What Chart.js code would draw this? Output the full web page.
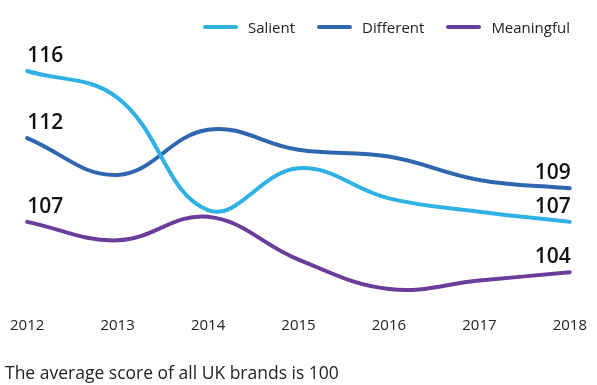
<!DOCTYPE html>
<html>
<head>
<meta charset="utf-8">
<script src="https://cdn.jsdelivr.net/npm/chart.js@4.4.1/dist/chart.umd.min.js"></script>
<style>
  html, body { margin: 0; padding: 0; background: #fff; }
  #wrap { position: relative; width: 597px; height: 385px; }
  #legend {
    position: absolute; right: 27px; top: 17px;
    display: flex; align-items: center;
    font-family: "Open Sans", sans-serif; font-size: 15px; color: #222;
    line-height: 20px;
  }
  #legend .item { display: flex; align-items: center; margin-left: 22px; }
  #legend .swatch { width: 35px; height: 4px; border-radius: 2px; margin-right: 10px; }
  #footnote {
    position: absolute; left: 5px; top: 360px;
    font-family: "Open Sans", sans-serif; font-size: 17.5px; color: #222;
    white-space: nowrap;
  }
</style>
</head>
<body>
<div id="wrap">
  <canvas id="myChart" width="597" height="385"></canvas>
  <div id="legend"></div>
  <div id="footnote">The average score of all UK brands is 100</div>
</div>
<script>
const years = ['2012', '2013', '2014', '2015', '2016', '2017', '2018'];
const salient = [116, 114.4, 107.7, 110.2, 108.4, 107.6, 107];
const different = [112, 109.8, 112.5, 111.3, 110.9, 109.5, 109];
const meaningful = [107, 105.9, 107.3, 104.75, 103.0, 103.5, 104];

const COLORS = {
    salient: '#30b1e4',
    different: '#2f66b0',
    meaningful: '#6a3d9a'
};

// draws the first and last value of each line above the line ends
const endLabels = {
    id: 'endLabels',
    afterDatasetsDraw(chart) {
        const ctx = chart.ctx;
        ctx.save();
        ctx.font = '600 21px "Open Sans", sans-serif';
        ctx.fillStyle = '#111';
        ctx.textBaseline = 'alphabetic';
        chart.data.datasets.forEach((ds, i) => {
            const pts = chart.getDatasetMeta(i).data;
            const first = pts[0];
            const last = pts[pts.length - 1];
            ctx.textAlign = 'left';
            ctx.fillText(Math.round(ds.data[0]), first.x, first.y - 9);
            ctx.textAlign = 'right';
            ctx.fillText(Math.round(ds.data[ds.data.length - 1]), last.x + 1, last.y - 9);
        });
        ctx.restore();
    }
};

function makeDataset(label, data, color) {
    return {
        label: label,
        data: data,
        borderColor: color,
        backgroundColor: color,
        borderWidth: 4,
        borderCapStyle: 'round',
        tension: 0.4,
        pointRadius: 0,
        fill: false
    };
}

function buildLegend(chart) {
    const legend = document.getElementById('legend');
    chart.data.datasets.forEach(ds => {
        const item = document.createElement('div');
        item.className = 'item';
        const swatch = document.createElement('span');
        swatch.className = 'swatch';
        swatch.style.background = ds.borderColor;
        const text = document.createElement('span');
        text.textContent = ds.label;
        item.appendChild(swatch);
        item.appendChild(text);
        legend.appendChild(item);
    });
}

const ctx = document.getElementById('myChart').getContext('2d');
const myChart = new Chart(ctx, {
    type: 'line',
    data: {
        labels: years,
        datasets: [
            makeDataset('Salient', salient, COLORS.salient),
            makeDataset('Different', different, COLORS.different),
            makeDataset('Meaningful', meaningful, COLORS.meaningful)
        ]
    },
    options: {
        responsive: false,
        animation: false,
        layout: {
            padding: { left: 23, right: 27, top: 40, bottom: 40 }
        },
        scales: {
            x: {
                offset: false,
                grid: { display: false },
                border: { display: false },
                ticks: {
                    color: '#222',
                    padding: 10,
                    maxRotation: 0,
                    font: { family: 'Open Sans', size: 15 }
                }
            },
            y: {
                display: false,
                min: 102.4,
                max: 117.85
            }
        },
        plugins: {
            tooltip: { enabled: false },
            legend: { display: false }
        }
    },
    plugins: [endLabels]
});

buildLegend(myChart);
</script>
</body>
</html>
